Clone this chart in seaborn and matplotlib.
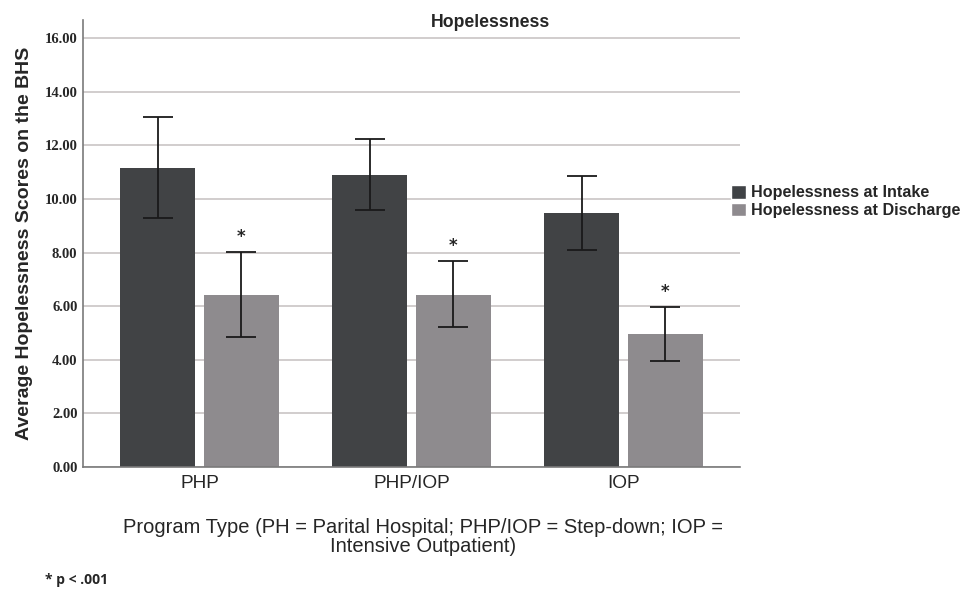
import pandas as pd
import matplotlib.pyplot as plt
import seaborn as sns
from matplotlib.patches import Patch

# valores
programs = ['PHP', 'PHP/IOP', 'IOP']
intake = [11.16, 10.90, 9.48]
intake_low = [9.29, 9.59, 8.10]
intake_high = [13.06, 12.24, 10.86]
discharge = [6.42, 6.42, 4.96]
discharge_low = [4.85, 5.22, 3.96]
discharge_high = [8.02, 7.69, 5.97]
series = ['Hopelessness at Intake', 'Hopelessness at Discharge']
colors = ['#404346', '#8e8a8e']

df = pd.DataFrame({
    'Program': programs * 2,
    'Serie': [series[0]] * 3 + [series[1]] * 3,
    'Score': intake + discharge,
    'Low': intake_low + discharge_low,
    'High': intake_high + discharge_high,
})

sns.set_style('white')
fig = plt.figure(figsize=(9.74, 5.96), dpi=100)
ax = fig.add_axes([0.0852, 0.2164, 0.6746, 0.75])

sns.barplot(data=df, x='Program', y='Score', hue='Serie', palette=colors,
            errorbar=None, width=0.79, gap=0.107, ax=ax, legend=False,
            linewidth=0, zorder=2)

# barras de erro e asteriscos a partir das barras desenhadas
bars = [p for p in ax.patches]
for i, bar in enumerate(bars):
    row = df.iloc[i]
    xc = bar.get_x() + bar.get_width() / 2
    ax.errorbar(xc, row['Score'],
                yerr=[[row['Score'] - row['Low']], [row['High'] - row['Score']]],
                fmt='none', ecolor='#1a1a1a', elinewidth=1.3, capsize=11,
                capthick=1.3, zorder=3)
    if row['Serie'] == series[1]:
        ax.annotate('*', (xc, row['High']), xytext=(0, 4), textcoords='offset points',
                    ha='center', va='bottom', fontsize=12, fontweight='bold')

ax.set_ylim(0, 16.67)
ax.set_xlim(-0.55, 2.55)
ax.set_yticks([0, 2, 4, 6, 8, 10, 12, 14, 16])
ax.set_yticklabels(['%.2f' % v for v in ax.get_yticks()],
                   family='Liberation Serif', fontweight='bold', fontsize=10.5)
ax.yaxis.grid(True, color='#c9c5c5', linewidth=1.2, zorder=0)
ax.set_axisbelow(True)
for s in ['top', 'right']:
    ax.spines[s].set_visible(False)
for s in ['left', 'bottom']:
    ax.spines[s].set_color('#7a7a7a')
    ax.spines[s].set_linewidth(1.2)
ax.tick_params(axis='both', length=0, pad=4)
ax.tick_params(axis='x', labelsize=13.7, pad=6)
for lab in ax.get_xticklabels():
    lab.set_family('Liberation Sans')

ax.set_xlabel('Program Type (PH = Parital Hospital; PHP/IOP = Step-down; IOP =\nIntensive Outpatient)',
              family='Liberation Sans', fontsize=14.5, linespacing=1.0)
ax.xaxis.set_label_coords(0.518, -0.113)
ax.set_ylabel('Average Hopelessness Scores on the BHS', family='Liberation Sans',
              fontweight='bold', fontsize=14, labelpad=8)

fig.text(0.504, 0.962, 'Hopelessness', ha='center', va='center',
         family='Liberation Sans', fontweight='bold', fontsize=12.7)

handles = [Patch(facecolor=c, label=s) for c, s in zip(colors, series)]
leg = fig.legend(handles=handles, loc='upper left', bbox_to_anchor=(0.744, 0.7),
                 frameon=False, handlelength=0.9, handleheight=0.9,
                 handletextpad=0.35, labelspacing=0.15, borderaxespad=0,
                 prop={'family': 'Liberation Sans', 'weight': 'bold', 'size': 11.6})

fig.text(0.046, 0.015, '* p < .001', family='Open Sans', fontweight='bold', fontsize=10,
         ha='left', va='bottom')

fig.savefig('out.png', dpi=100)
